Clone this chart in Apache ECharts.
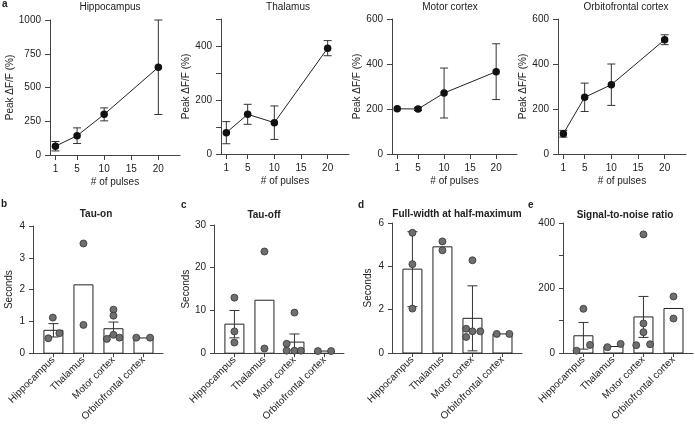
<!DOCTYPE html>
<html>
<head>
<meta charset="utf-8">
<script src="https://cdn.jsdelivr.net/npm/echarts@6/dist/echarts.min.js"></script>
<style>
  html, body { margin: 0; padding: 0; background: #fff; }
  #chart { width: 695px; height: 424px; }
</style>
</head>
<body>
<div id="chart"></div>
<script>
// panel a: peak dF/F vs number of pulses
var pulses = [1, 5, 10, 20];
var pulseTicks = [1, 5, 10, 15, 20];
var hipMean = [65, 143, 301, 650],
    hipErr = [35, 58, 48, 350];
var thalMean = [79, 147, 116, 392],
    thalErr = [41, 37, 62, 28];
var motorMean = [201, 200, 271, 366],
    motorErr = [0, 7, 111, 124];
var ofcMean = [90, 252, 308, 508],
    ofcErr = [15, 63, 92, 22];

// panels b-e: per region bars, error bars and single animals
var regions = ['Hippocampus', 'Thalamus', 'Motor cortex', 'Orbitofrontal cortex'];

var tauOnMean = [0.72, 2.15, 0.77, 0.48],
    tauOnErr = [0.21, null, 0.21, null],
    tauOnPoints = [[0.47, 1.12, 0.63], [3.45, 0.89], [1.37, 1.18, 0.45, 0.58, 0.49], [0.49, 0.49]],
    tauOnJitter = [[-0.17, -0.02, 0.2], [0, 0], [0, 0, -0.22, 0, 0.2], [-0.24, 0.22]];

var tauOffMean = [6.8, 12.4, 2.6, 0.5],
    tauOffErr = [3.2, null, 1.9, null],
    tauOffPoints = [[13.0, 5.1, 2.5], [23.8, 1.1], [9.5, 2.2, 0.6, 0.6, 0.6], [0.5, 0.5]],
    tauOffJitter = [[0, 0, 0], [0, 0], [0, -0.26, -0.26, 0, 0.21], [-0.22, 0.22]];

var fwhmMean = [3.87, 4.9, 1.6, 0.88],
    fwhmErr = [1.73, null, 1.5, null],
    fwhmPoints = [[5.55, 4.1, 2.05], [5.15, 4.74], [4.28, 1.12, 0.74, 1.0, 1.0], [0.88, 0.88]],
    fwhmJitter = [[0, 0, 0], [0, 0], [0, -0.21, -0.21, 0, 0.26], [-0.19, 0.23]];

var snrMean = [53, 20, 111, 137],
    snrErr = [41, null, 63, null],
    snrPoints = [[136, 7, 25], [18, 28], [365, 91, 64, 24, 27], [174, 106]],
    snrJitter = [[0, -0.23, 0.22], [-0.2, 0.24], [0, 0, 0, -0.24, 0.22], [0, 0]];

var FONT = '"Liberation Sans", Arial, Helvetica, sans-serif';
var TEXT = '#222';
var AXIS = '#444';

var chart = echarts.init(document.getElementById('chart'));
var grids = [], xAxes = [], yAxes = [], series = [], graphics = [];

function text(x, y, s, weight, align) {
  return {
    type: 'text', x: x, y: y, silent: true,
    style: {
      text: s, fill: TEXT, fontSize: 10, fontWeight: weight, fontFamily: FONT,
      align: align, verticalAlign: 'middle'
    }
  };
}

function errorBar(cap) {
  return function (params, api) {
    var x = api.value(0), m = api.value(1), e = api.value(2);
    if (!e) return null;
    var hi = api.coord([x, m + e]),
        lo = api.coord([x, m - e]);
    var st = { stroke: '#333', lineWidth: 1 };
    return {
      type: 'group',
      children: [
        { type: 'line', shape: { x1: hi[0], y1: hi[1], x2: lo[0], y2: lo[1] }, style: st },
        { type: 'line', shape: { x1: hi[0] - cap, y1: hi[1], x2: hi[0] + cap, y2: hi[1] }, style: st },
        { type: 'line', shape: { x1: lo[0] - cap, y1: lo[1], x2: lo[0] + cap, y2: lo[1] }, style: st }
      ]
    };
  };
}

function barItem(params, api) {
  var x = api.value(0), v = api.value(1);
  var top = api.coord([x, v]),
      base = api.coord([x, 0]);
  var w = 19;
  return {
    type: 'rect',
    shape: { x: top[0] - w / 2, y: top[1], width: w, height: base[1] - top[1] },
    style: { fill: '#fff', stroke: '#222', lineWidth: 1 }
  };
}

function yAxisFor(gi, p, name) {
  return {
    gridIndex: gi, type: 'value', min: 0, max: p.yMax, interval: p.yStep,
    name: name, nameLocation: 'middle', nameGap: p.nameGap,
    nameTextStyle: { fontSize: 10, color: TEXT, fontFamily: FONT },
    axisLine: { show: true, onZero: false, lineStyle: { color: AXIS, width: 1 } },
    axisTick: { show: true, length: p.tick, lineStyle: { color: AXIS } },
    axisLabel: {
      fontSize: 10, color: TEXT, fontFamily: FONT, margin: p.tick + 4,
      formatter: function (v) { return v % p.yLabel === 0 ? String(v) : ''; }
    },
    splitLine: { show: false }
  };
}

function addTopPanel(p) {
  var gi = grids.length;
  grids.push({ left: p.left, top: p.top, width: p.width, height: p.height });
  xAxes.push({
    gridIndex: gi, type: 'value', min: 0, max: 24,
    name: '# of pulses', nameLocation: 'middle', nameGap: 22,
    nameTextStyle: { fontSize: 10, color: TEXT, fontFamily: FONT },
    axisLine: { show: true, onZero: false, lineStyle: { color: AXIS, width: 1 } },
    axisTick: { show: true, length: 5, customValues: pulseTicks, lineStyle: { color: AXIS } },
    axisLabel: { customValues: pulseTicks, fontSize: 10, color: TEXT, fontFamily: FONT, margin: 9 },
    splitLine: { show: false }
  });
  p.tick = 5;
  yAxes.push(yAxisFor(gi, p, 'Peak \u0394F/F (%)'));
  series.push({
    type: 'custom', xAxisIndex: gi, yAxisIndex: gi, silent: true, z: 2,
    renderItem: errorBar(4),
    data: pulses.map(function (x, i) { return [x, p.mean[i], p.err[i]]; })
  });
  series.push({
    type: 'line', xAxisIndex: gi, yAxisIndex: gi, z: 3, silent: true,
    symbol: 'circle', symbolSize: 7.5,
    itemStyle: { color: '#111' },
    lineStyle: { color: '#222', width: 1 },
    data: pulses.map(function (x, i) { return [x, p.mean[i]]; })
  });
  graphics.push(text(p.cx, p.ty, p.title, 'normal', 'center'));
}

function addBottomPanel(p) {
  var gi = grids.length;
  grids.push({ left: p.left, top: p.top, width: 130, height: p.height });
  xAxes.push({
    gridIndex: gi, type: 'value', min: -0.68, max: 3.65,
    axisLine: { show: true, onZero: false, lineStyle: { color: AXIS, width: 1 } },
    axisTick: { show: true, length: 4, customValues: [0, 1, 2, 3], lineStyle: { color: AXIS } },
    axisLabel: {
      customValues: [0, 1, 2, 3], rotate: 45, margin: 5,
      fontSize: 10, color: TEXT, fontFamily: FONT,
      formatter: function (v) { return regions[Math.round(v)]; }
    },
    splitLine: { show: false }
  });
  p.tick = 4;
  yAxes.push(yAxisFor(gi, p, p.yName));
  series.push({
    type: 'custom', xAxisIndex: gi, yAxisIndex: gi, silent: true, z: 1,
    renderItem: barItem,
    data: p.mean.map(function (v, i) { return [i, v]; })
  });
  series.push({
    type: 'custom', xAxisIndex: gi, yAxisIndex: gi, silent: true, z: 2,
    renderItem: errorBar(5),
    data: p.mean.map(function (v, i) { return [i, v, p.err[i]]; })
  });
  var dots = [];
  p.points.forEach(function (vals, i) {
    vals.forEach(function (v, k) { dots.push([i + p.jitter[i][k], v]); });
  });
  series.push({
    type: 'scatter', xAxisIndex: gi, yAxisIndex: gi, silent: true, z: 3,
    symbolSize: 7,
    itemStyle: { color: '#6e6e6e', borderColor: '#333', borderWidth: 0.8, opacity: 1 },
    data: dots
  });
  graphics.push(text(p.cx, p.ty, p.title, 'bold', 'center'));
}

addTopPanel({ title: 'Hippocampus', cx: 110, ty: 7, left: 50, top: 20, width: 130, height: 135,
  yMax: 1000, yStep: 250, yLabel: 250, nameGap: 34, mean: hipMean, err: hipErr });
addTopPanel({ title: 'Thalamus', cx: 288, ty: 7, left: 221, top: 19, width: 128, height: 135,
  yMax: 500, yStep: 100, yLabel: 200, nameGap: 27, mean: thalMean, err: thalErr });
addTopPanel({ title: 'Motor cortex', cx: 450, ty: 7, left: 392, top: 19, width: 125, height: 135,
  yMax: 600, yStep: 200, yLabel: 200, nameGap: 29, mean: motorMean, err: motorErr });
addTopPanel({ title: 'Orbitofrontal cortex', cx: 626, ty: 7, left: 558, top: 19, width: 128, height: 135,
  yMax: 600, yStep: 200, yLabel: 200, nameGap: 27, mean: ofcMean, err: ofcErr });

addBottomPanel({ title: 'Tau-on', cx: 96, ty: 214, left: 33, top: 226, height: 129,
  yMax: 4, yStep: 1, yLabel: 1, yName: 'Seconds', nameGap: 19,
  mean: tauOnMean, err: tauOnErr, points: tauOnPoints, jitter: tauOnJitter });
addBottomPanel({ title: 'Tau-off', cx: 264, ty: 215, left: 214, top: 225, height: 130,
  yMax: 30, yStep: 10, yLabel: 10, yName: 'Seconds', nameGap: 20,
  mean: tauOffMean, err: tauOffErr, points: tauOffPoints, jitter: tauOffJitter });
addBottomPanel({ title: 'Full-width at half-maximum', cx: 457, ty: 214, left: 392, top: 223, height: 130,
  yMax: 6, yStep: 2, yLabel: 2, yName: 'Seconds', nameGap: 19,
  mean: fwhmMean, err: fwhmErr, points: fwhmPoints, jitter: fwhmJitter });
addBottomPanel({ title: 'Signal-to-noise ratio', cx: 625, ty: 215, left: 563, top: 223, height: 130,
  yMax: 400, yStep: 100, yLabel: 200, yName: '', nameGap: 20,
  mean: snrMean, err: snrErr, points: snrPoints, jitter: snrJitter });

// panel letters
graphics.push(text(2, 4, 'a', 'bold', 'left'));
graphics.push(text(1, 204, 'b', 'bold', 'left'));
graphics.push(text(181, 205, 'c', 'bold', 'left'));
graphics.push(text(358, 205, 'd', 'bold', 'left'));
graphics.push(text(528, 205, 'e', 'bold', 'left'));

chart.setOption({
  animation: false,
  textStyle: { fontFamily: FONT },
  grid: grids,
  xAxis: xAxes,
  yAxis: yAxes,
  series: series,
  graphic: { elements: graphics }
});
</script>
</body>
</html>
